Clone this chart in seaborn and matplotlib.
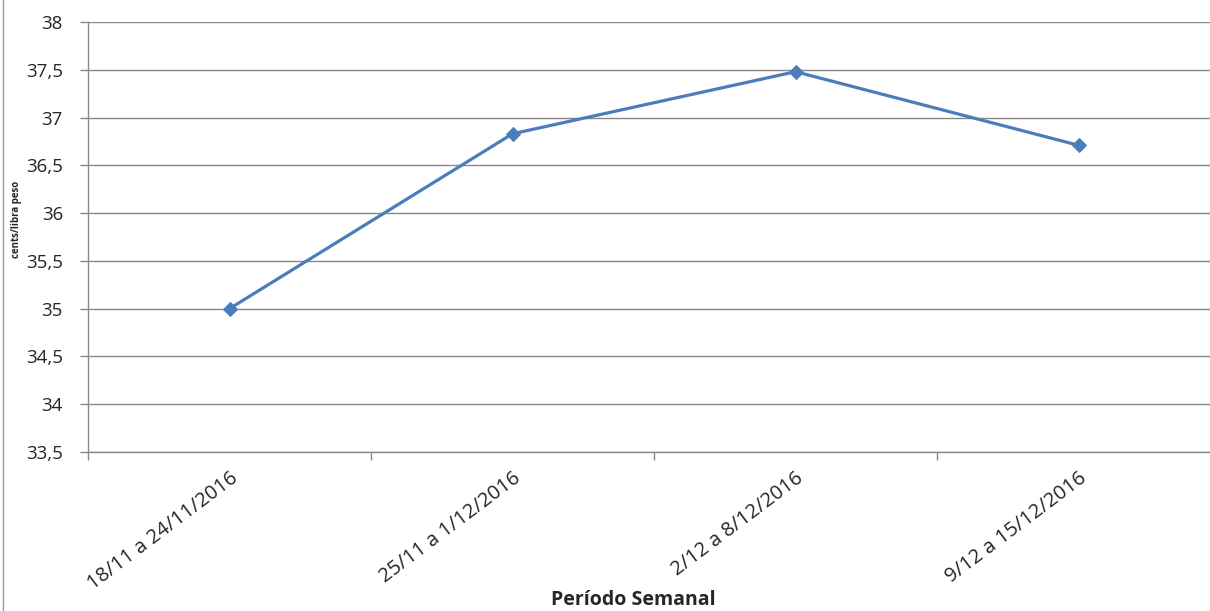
import matplotlib
matplotlib.use("Agg")
import matplotlib.pyplot as plt
import seaborn as sns
from matplotlib.ticker import FuncFormatter, MultipleLocator
from matplotlib.lines import Line2D

periodos = ["18/11 a 24/11/2016", "25/11 a 1/12/2016", "2/12 a 8/12/2016", "9/12 a 15/12/2016"]
precos = [35.0, 36.83, 37.48, 36.71]

sns.set_theme(style="white")
plt.rcParams['font.family'] = ['Open Sans', 'DejaVu Sans']

W, H = 1210, 611
fig = plt.figure(figsize=(W / 100, H / 100), dpi=100)
left, right, top, bottom = 88, 1220, 22, 452
ax = fig.add_axes([left / W, (H - bottom) / H, (right - left) / W, (bottom - top) / H])

sns.lineplot(x=periodos, y=precos, ax=ax, sort=False, color="#4A7EBB", linewidth=2.3,
             marker="D", markersize=7, markeredgecolor="#4A7EBB", markerfacecolor="#4A7EBB")

ax.set_xlim(-0.5, 3.5)
ax.set_ylim(33.5, 38)
ax.yaxis.set_major_locator(MultipleLocator(0.5))
ax.yaxis.set_major_formatter(FuncFormatter(lambda v, p: (f"{v:g}").replace(".", ",")))
ax.grid(axis="y", color="#888888", linewidth=1)
ax.grid(axis="x", visible=False)

for s in ["top", "right"]:
    ax.spines[s].set_visible(False)
for s in ["left", "bottom"]:
    ax.spines[s].set_color("#888888")
    ax.spines[s].set_linewidth(1)

ax.set_xticks([0, 1, 2, 3])
ax.set_xticklabels(periodos, rotation=37, ha="right", rotation_mode="anchor", fontsize=14.5)
ax.set_xticks([-0.5, 0.5, 1.5, 2.5, 3.5], minor=True)
ax.tick_params(axis="x", which="major", length=0, pad=12)
ax.tick_params(axis="x", which="minor", length=6, color="#888888", width=1, direction="out")
ax.tick_params(axis="y", length=6, color="#888888", width=1, direction="out", labelsize=13.5, pad=12)
ax.tick_params(left=True, bottom=True)
ax.tick_params(axis="x", which="minor", bottom=True)

ax.set_xlabel("Período Semanal", fontsize=14, fontweight="bold", labelpad=0)
ax.xaxis.set_label_coords((633 - left) / (right - left), -(600 - bottom) / (bottom - top), transform=ax.transAxes)
ax.xaxis.label.set_va("center")
ax.set_ylabel("cents/libra peso", fontsize=7, fontweight="bold")
ax.yaxis.set_label_coords((17 - left) / (right - left), (bottom - 219) / (bottom - top))
ax.yaxis.label.set_va("center")

fig.add_artist(Line2D([2.5 / W, 2.5 / W], [0, 1], transform=fig.transFigure, color="#999999", linewidth=1))

fig.savefig("out.png", dpi=100)
